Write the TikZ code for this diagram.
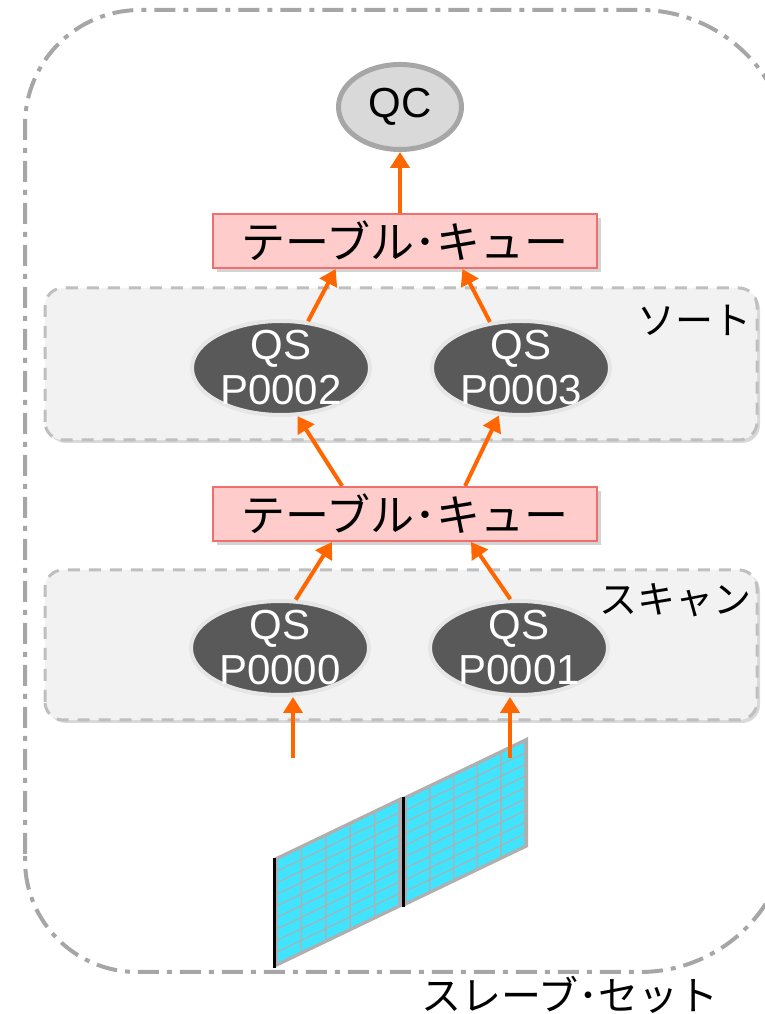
\documentclass[tikz,border=0pt]{standalone}
\usepackage{fontspec}
\setmainfont{Liberation Sans}
\newfontfamily\jp{Noto Sans CJK JP}
\usetikzlibrary{arrows.meta,shapes.geometric,shadows}

\definecolor{framegray}{RGB}{166,166,166}
\definecolor{boxfill}{RGB}{242,242,242}
\definecolor{boxline}{RGB}{191,191,191}
\definecolor{qfill}{RGB}{255,204,204}
\definecolor{qline}{RGB}{240,110,110}
\definecolor{flow}{RGB}{255,102,0}
\definecolor{qsfill}{RGB}{89,89,89}
\definecolor{qsline}{RGB}{230,230,230}
\definecolor{qcfill}{RGB}{217,217,217}
\definecolor{cell}{RGB}{64,228,255}
\definecolor{rack}{RGB}{175,175,175}

\tikzset{
  arr/.style={flow,line width=4pt,-{Triangle[length=16pt,width=19pt]}},
  group/.style={rounded corners=18pt,fill=boxfill,draw=boxline,line width=3pt,
    dash pattern=on 12pt off 9pt,
    drop shadow={shadow xshift=3pt,shadow yshift=-3pt,opacity=0.3}},
  queue/.style={rectangle,fill=qfill,draw=qline,line width=2pt,
    minimum width=384pt,minimum height=54pt,inner sep=0pt,
    font=\jp\fontsize{44}{46}\selectfont,
    drop shadow={shadow xshift=4pt,shadow yshift=-4pt,opacity=0.35}},
  qs/.style={ellipse,fill=qsfill,draw=qsline,line width=4pt,
    minimum width=178pt,minimum height=94pt,inner sep=0pt},
  qstext/.style={text=white,align=center,font=\fontsize{42}{45}\selectfont},
  qc/.style={ellipse,fill=qcfill,draw=framegray,line width=5pt,
    minimum width=123pt,minimum height=85pt,inner sep=0pt,
    font=\fontsize{42}{44}\selectfont},
  lbl/.style={font=\jp\fontsize{38}{40}\selectfont,inner sep=0pt}
}

\begin{document}
\begin{tikzpicture}[x=1pt,y=1pt]
\useasboundingbox (0,0) rectangle (765,1014);
\clip (0,0) rectangle (765,1014);

% slave set frame
\draw[framegray,line width=4pt,dash pattern=on 21pt off 8pt on 5pt off 8pt]
  (25,160) -- (25,889) arc[start angle=180,end angle=90,radius=115]
  -- (640,1004) arc[start angle=90,end angle=0,radius=150]
  -- (790,192) arc[start angle=0,end angle=-90,radius=150]
  -- (137,42) arc[start angle=270,end angle=180,radius=112] -- cycle;
\node[lbl,anchor=center,font=\jp\fontsize{40}{42}\selectfont] (slaveset)
  at (570,19) {スレーブ･セット};

% sort and scan groups
\draw[group] (45,294) rectangle (757,444);
\draw[group] (45,574) rectangle (757,726);
\node[lbl,anchor=east] (sortlbl) at (752,694) {ソート};
\node[lbl,anchor=east] (scanlbl) at (752,414) {スキャン};

% table storage
\foreach \px/\py/\w/\h in {274/46/128/110, 403/107/125/110} {
  \begin{scope}[shift={(\px,\py)},yslant=0.48]
    \fill[rack] (0,0) rectangle (\w,\h);
    \foreach \i in {0,...,4}
      \foreach \j in {0,...,8}
        \fill[cell] ({3+\i*(\w-6)/5+0.8},{3+\j*(\h-6)/9+0.8})
          rectangle ++({(\w-6)/5-1.6},{(\h-6)/9-1.6});
    \draw[black,line width=3pt] (0,0) -- (0,\h);
  \end{scope}
}

% processes
\node[qc] (qc) at (400,907) {QC};
\node[queue] (q1) at (405,773) {テーブル･キュー};
\node[queue] (q2) at (405,500) {テーブル･キュー};
\node[qs,label={[qstext]center:QS\\P0002}] (p2) at (281,646) {};
\node[qs,label={[qstext]center:QS\\P0003}] (p3) at (521,646) {};
\node[qs,label={[qstext]center:QS\\P0000}] (p0) at (280,366) {};
\node[qs,label={[qstext]center:QS\\P0001}] (p1) at (519,366) {};

\coordinate (in0) at (293,256);
\coordinate (in1) at (510,256);

% data flow
\draw[arr] (q1.north -| qc) -- (qc.south);
\draw[arr] (p2.60) -- (q1.202);
\draw[arr] (p3.124) -- (q1.334);
\draw[arr] (q2.156) -- (p2.289);
\draw[arr] (q2.25) -- (p3.245);
\draw[arr] (p0.72) -- (q2.201);
\draw[arr] (p1.100) -- (q2.337);
\draw[arr] (in0) -- (in0 |- p0.south);
\draw[arr] (in1) -- (in1 |- p1.south);
\end{tikzpicture}
\end{document}
